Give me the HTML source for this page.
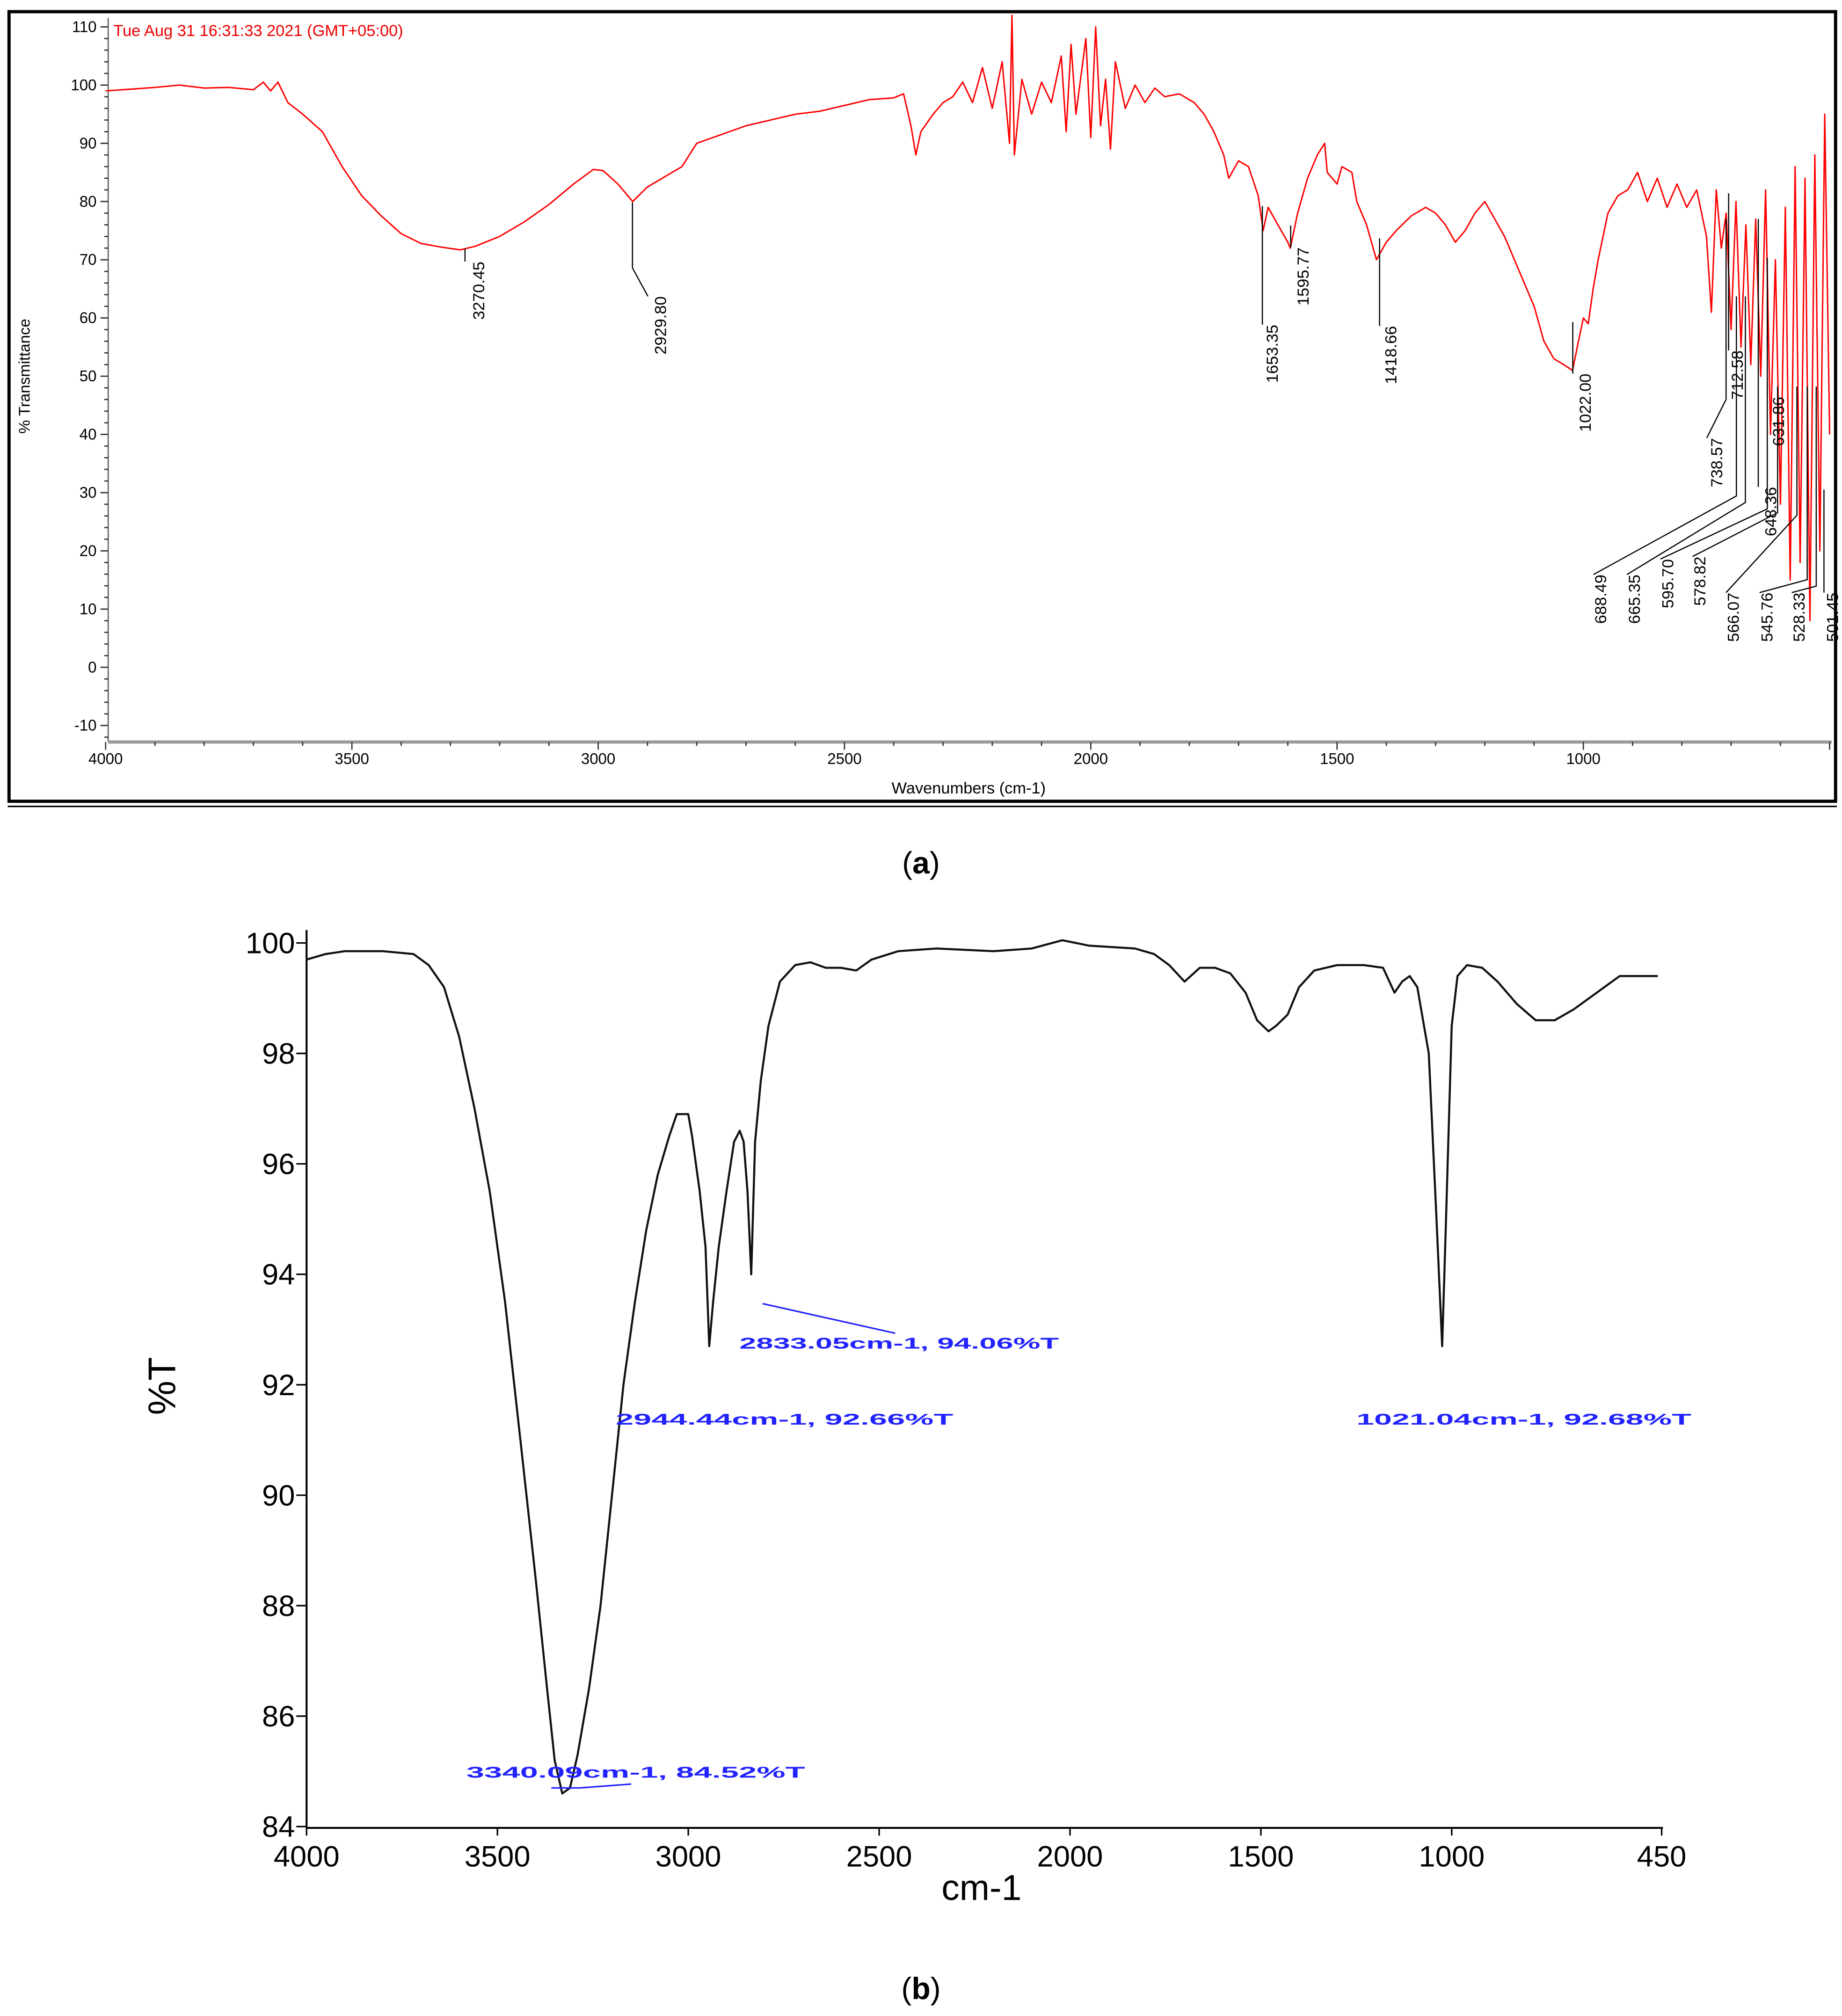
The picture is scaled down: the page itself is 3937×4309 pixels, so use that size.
<!DOCTYPE html>
<html><head><meta charset="utf-8"><style>
html,body{margin:0;padding:0;background:#fff}
svg{display:block}
text{font-family:"Liberation Sans",sans-serif}
</style></head><body>
<svg id="s" width="3937" height="4309" viewBox="0 0 1430 1565" xmlns="http://www.w3.org/2000/svg">
<rect x="0" y="0" width="1430" height="1565" fill="#fff"/>
<g id="pa">
<rect x="7" y="9" width="1418" height="613" fill="none" stroke="#000" stroke-width="2.5"/>
<line x1="6" y1="626" x2="1426" y2="626" stroke="#000" stroke-width="1.2"/>
<line x1="84" y1="14" x2="84" y2="576" stroke="#666" stroke-width="1"/>
<line x1="84" y1="576" x2="1422" y2="576" stroke="#999" stroke-width="2.5"/>
<text x="88" y="28" font-size="12.5" fill="#e00">Tue Aug 31 16:31:33 2021 (GMT+05:00)</text>
<text transform="translate(23,292) rotate(-90)" font-size="12" text-anchor="middle">% Transmittance</text>
<text x="752" y="616" font-size="12.5" text-anchor="middle">Wavenumbers (cm-1)</text>
<g id="ga"></g>
</g>
<g id="pb">
<line x1="238" y1="722" x2="238" y2="1419" stroke="#000" stroke-width="1.5"/>
<line x1="238" y1="1419" x2="1291" y2="1419" stroke="#000" stroke-width="1.5"/>
<text transform="translate(136,1076) rotate(-90)" font-size="30" text-anchor="middle">%T</text>
<text x="762" y="1475" font-size="28" text-anchor="middle">cm-1</text>
<g id="gb"></g>
</g>
<text x="715" y="678" font-size="24" text-anchor="middle" font-family="Liberation Serif">(<tspan font-weight="bold">a</tspan>)</text>
<text x="715" y="1552" font-size="24" text-anchor="middle" font-family="Liberation Serif">(<tspan font-weight="bold">b</tspan>)</text>
</svg>
<script>
// Panel (a) data
const aWavenumbers=[4000,3950,3900,3850,3800,3750,3700,3680,3665,3650,3630,3600,3560,3520,3480,3440,3400,3360,3320,3280,3250,3200,3150,3100,3050,3010,2990,2960,2930,2900,2860,2830,2800,2750,2700,2650,2600,2550,2500,2450,2400,2380,2365,2355,2345,2320,2300,2280,2260,2240,2220,2200,2180,2165,2160,2155,2140,2120,2100,2080,2060,2050,2040,2030,2010,2000,1990,1980,1970,1960,1950,1930,1910,1890,1870,1850,1820,1790,1770,1750,1730,1720,1700,1680,1660,1650,1640,1620,1600,1595,1580,1560,1540,1525,1520,1500,1490,1470,1460,1440,1420,1400,1380,1350,1320,1300,1280,1260,1240,1220,1200,1180,1160,1130,1100,1080,1060,1040,1022,1010,1000,990,980,970,950,930,910,890,870,850,830,810,790,770,750,740,730,720,710,700,690,680,670,660,650,640,630,620,610,600,590,580,570,560,550,540,530,520,510,500];
const aTransmittance=[99,99.3,99.6,100,99.5,99.6,99.2,100.5,99,100.5,97,95,92,86,81,77.5,74.5,72.8,72.2,71.7,72.3,74,76.5,79.5,83,85.5,85.3,83,80,82.5,84.5,86,90,91.5,93,94,95,95.5,96.5,97.5,97.8,98.5,93,88,92,95,97,98,100.5,97,103,96,104,90,112,88,101,95,100.5,97,105,92,107,95,108,91,110,93,101,89,104,96,100,97,99.5,98,98.5,97,95,92,88,84,87,86,81,75,79,76,73,72,78,84,88,90,85,83,86,85,80,76,70,73,75,77.5,79,78,76,73,75,78,80,77,74,68,62,56,53,52,51,56,60,59,65,70,78,81,82,85,80,84,79,83,79,82,74,61,82,72,78,58,80,55,76,52,77,50,82,40,70,28,79,15,86,18,84,8,88,20,95,40];
const aXTicks=[4000,3500,3000,2500,2000,1500,1000];
const aYTicks=[110,100,90,80,70,60,50,40,30,20,10,0,-10];
const aPeakLabels=["3270.45","2929.80","1653.35","1595.77","1418.66","1022.00","738.57","712.58","631.86","648.36","688.49","665.35","595.70","578.82","566.07","545.76","528.33","501.45"];
// Panel (b) data
const bWavenumbers=[4000,3950,3900,3800,3720,3680,3640,3600,3560,3520,3480,3440,3400,3370,3350,3330,3310,3290,3260,3230,3200,3170,3140,3110,3080,3050,3030,3000,2990,2970,2955,2945,2935,2920,2900,2880,2865,2855,2845,2835,2825,2810,2790,2760,2720,2680,2640,2600,2560,2520,2450,2350,2200,2100,2020,1950,1830,1780,1740,1700,1660,1620,1580,1540,1510,1480,1460,1430,1400,1360,1300,1230,1180,1150,1130,1110,1090,1060,1040,1025,1015,1000,985,960,920,880,830,780,730,680,620,560,460];
const bTransmittance=[99.7,99.8,99.85,99.85,99.8,99.6,99.2,98.3,97,95.5,93.5,91,88.5,86.5,85.2,84.6,84.7,85.3,86.5,88,90,92,93.5,94.8,95.8,96.5,96.9,96.9,96.5,95.5,94.5,92.7,93.5,94.5,95.5,96.4,96.6,96.4,95.5,94.0,96.4,97.5,98.5,99.3,99.6,99.65,99.55,99.55,99.5,99.7,99.85,99.9,99.85,99.9,100.05,99.95,99.9,99.8,99.6,99.3,99.55,99.55,99.45,99.1,98.6,98.4,98.5,98.7,99.2,99.5,99.6,99.6,99.55,99.1,99.3,99.4,99.2,98.0,95,92.7,95,98.5,99.4,99.6,99.55,99.3,98.9,98.6,98.6,98.8,99.1,99.4,99.4];
const bXTicks=[4000,3500,3000,2500,2000,1500,1000,450];
const bYTicks=[100,98,96,94,92,90,88,86,84];
const bAnnotations=["2833.05cm-1, 94.06%T","2944.44cm-1, 92.66%T","1021.04cm-1, 92.68%T","3340.09cm-1, 84.52%T"];

const NS="http://www.w3.org/2000/svg";
function mk(tag,attrs,parent,txt){const e=document.createElementNS(NS,tag);for(const k in attrs)e.setAttribute(k,attrs[k]);if(txt!==undefined)e.textContent=txt;parent.appendChild(e);return e;}
const xa=w=>82+(4000-w)*0.3824, ya=t=>66+(100-t)*4.52;
const xb=w=>238+(4000-w)*0.29634, yb=t=>732+(100-t)*42.875;
const ga=document.getElementById('ga'), gb=document.getElementById('gb');

for(let w=4000;w>=500;w-=100){const big=w%500===0;const t=mk('line',{x1:xa(w),x2:xa(w),y1:576,y2:big?582:579,stroke:'#333','stroke-width':1},ga);
}
aXTicks.forEach(w=>{const t=mk('text',{x:xa(w),y:593,'font-size':12,'text-anchor':'middle'},ga,String(w));
});
for(let v=110;v>=-12;v-=2){const big=v%10===0;const t=mk('line',{x1:big?78:81,x2:84,y1:ya(v),y2:ya(v),stroke:'#333','stroke-width':1},ga);
}
aYTicks.forEach(v=>{const t=mk('text',{x:75,y:ya(v)+4,'font-size':12,'text-anchor':'end'},ga,String(v));
});
let da=aWavenumbers.map((w,i)=>(i?'L':'M')+Math.min(xa(w),1422).toFixed(1)+','+ya(aTransmittance[i]).toFixed(1)).join('');
const la=mk('path',{d:da,fill:'none',stroke:'#f00','stroke-width':1.1,'stroke-linejoin':'round'},ga);

const aLab=[["M361,193V203",372,203],["M491,157V208L503,230",513,230],["M980,160V252",988,252],["M1002,175V192",1012,192],["M1071,185V253",1080,253],["M1221,250V290",1231,290],
["M1340,170V310L1325,340",1333,340],["M1342,150V272",1349,272],["M1372,200V308",1381,308],["M1365,170V378",1375,378],
["M1348,230V385L1237,446",1243,446],["M1355,230V390L1263,446",1269,446],["M1372,300V395L1289,434",1295,434],["M1380,300V398L1314,432",1320,432],
["M1395,300V400L1340,460",1346,460],["M1403,300V450L1366,460",1372,460],["M1410,300V455L1391,460",1397,460],["M1416,380V460",1423,460]];
aLab.forEach((a,i)=>{const p=mk('path',{d:a[0],fill:'none',stroke:'#000','stroke-width':0.9},ga);

const t=mk('text',{transform:`translate(${a[1]+4},${a[2]}) rotate(-90)`,'font-size':12.5,'text-anchor':'end'},ga,aPeakLabels[i]);
});

bXTicks.forEach(w=>{const l=mk('line',{x1:xb(w),x2:xb(w),y1:1419,y2:1425,stroke:'#000','stroke-width':1.2},gb);

const t=mk('text',{x:xb(w),y:1449,'font-size':23,'text-anchor':'middle'},gb,String(w));
});
bYTicks.forEach(v=>{const l=mk('line',{x1:230,x2:238,y1:yb(v),y2:yb(v),stroke:'#000','stroke-width':1.2},gb);

const t=mk('text',{x:229,y:yb(v)+8,'font-size':23,'text-anchor':'end'},gb,String(v));
});
let db=bWavenumbers.map((w,i)=>(i?'L':'M')+xb(w).toFixed(1)+','+yb(bTransmittance[i]).toFixed(1)).join('');
const lb=mk('path',{d:db,fill:'none',stroke:'#111','stroke-width':1.6,'stroke-linejoin':'round'},gb);

const bPos=[[574,1047,248],[478,1106,262],[1053,1106,260],[362,1380,263]];
bAnnotations.forEach((s,i)=>{const t=mk('text',{x:bPos[i][0],y:bPos[i][1],'font-size':12,fill:'#22f','font-weight':'bold',textLength:bPos[i][2],lengthAdjust:'spacingAndGlyphs'},gb,s);
});
const l1=mk('path',{d:'M592,1012L695,1035',stroke:'#22f','stroke-width':1.2,fill:'none'},gb);

const l2=mk('path',{d:'M428,1388H450L490,1385',stroke:'#22f','stroke-width':1.2,fill:'none'},gb);

</script>
</body></html>
